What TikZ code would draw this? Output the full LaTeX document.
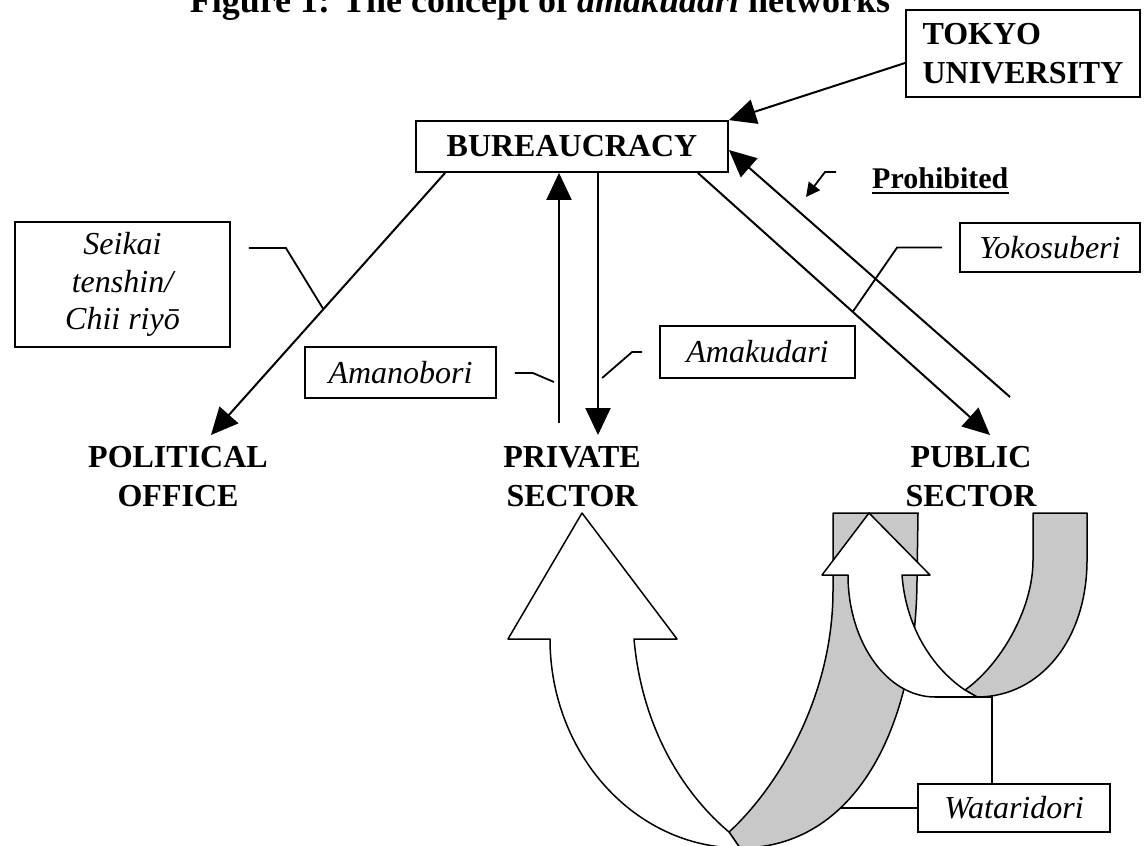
\documentclass[tikz,border=0pt]{standalone}
\usepackage{fontspec}
\setmainfont{Liberation Serif}
\usetikzlibrary{arrows.meta,calc}
\definecolor{backface}{RGB}{200,200,200}
\begin{document}
\begin{tikzpicture}[x=1pt,y=-1pt,
  lbl/.style={font=\fontsize{32}{39}\selectfont\bfseries, align=center, inner sep=0pt},
  tag/.style={draw, line width=1.8pt, font=\fontsize{32}{37.5}\selectfont\itshape, align=center, inner sep=0pt},
  conn/.style={line width=2pt, -{Triangle[length=27pt,width=25pt]}},
  leader/.style={line width=1.8pt},
  band/.style={line width=1.5pt, line join=round}]

\useasboundingbox (0,0) rectangle (1147,845);
\clip (0,0) rectangle (1147,845);

% ---------- twisted ribbons (wataridori) ----------
% large ribbon: back face
\draw[band, fill=backface] (740,848) .. controls (855,848) and (916,728) .. (917,580)
  -- (918,513) -- (833,513) -- (833,590) .. controls (833,700) and (775,790) .. (729,832) -- cycle;
% large ribbon: front face with arrow head
\draw[band, fill=white] (550,639) -- (508,639) -- (582,513) -- (677,639) -- (634,639)
  .. controls (642,730) and (685,795) .. (729,832) -- (740,848)
  .. controls (635,848) and (550,754) .. (550,639) -- cycle;
% small ribbon: back face
\draw[band, fill=backface] (977,697) .. controls (1040,697) and (1087,640) .. (1087,560)
  -- (1087,513) -- (1033,513) -- (1033,560) .. controls (1033,610) and (1000,665) .. (965,690) -- cycle;
% small ribbon: front face with arrow head
\draw[band, fill=white] (848,575) -- (822,575) -- (869,513) -- (930,575) -- (902,575)
  .. controls (906,630) and (935,670) .. (965,690) -- (977,697) -- (935,697)
  .. controls (887,697) and (848,642) .. (848,575) -- cycle;

% ---------- title ----------
\node[anchor=base, inner sep=0pt, font=\fontsize{36}{40}\selectfont\bfseries] (title) at (540,13)
  {Figure 1: The concept of \textit{amakudari} networks};

% ---------- main nodes ----------
\node[draw, line width=1.8pt, lbl, minimum width=312pt, minimum height=51pt] (bur) at (572,146.5) {BUREAUCRACY};
\node[draw, line width=1.8pt, lbl, align=left, minimum width=234pt, minimum height=87pt] (tok) at (1023,53.5) {TOKYO\\UNIVERSITY};
\node[lbl] (pol)  at (178,477) {POLITICAL\\OFFICE};
\node[lbl] (priv) at (572,477) {PRIVATE\\SECTOR};
\node[lbl] (pub)  at (971,477) {PUBLIC\\SECTOR};

% ---------- label boxes ----------
\node[tag, minimum width=215pt, minimum height=125pt] (sei) at (122.5,284.5) {Seikai\\tenshin/\\Chii riyō};
\node[tag, minimum width=191pt, minimum height=51pt] (amo) at (400.5,372.5) {Amanobori};
\node[tag, minimum width=195pt, minimum height=52pt] (amk) at (757.5,352) {Amakudari};
\node[tag, minimum width=180pt, minimum height=49pt] (yok) at (1050,247.5) {Yokosuberi};
\node[tag, minimum width=192pt, minimum height=48pt] (wat) at (1014,808) {Wataridori};

\node[anchor=base west, inner sep=0pt, font=\fontsize{30}{36}\selectfont\bfseries] (proh) at (872,188) {Prohibited};
\draw[line width=1.8pt] ([yshift=-5pt]proh.base west) -- ([yshift=-5pt]proh.base east);

% ---------- connectors ----------
\draw[conn] ([yshift=-9.5pt]tok.west) -- (bur.north east);
\draw[conn] ([xshift=30pt]bur.south west) -- coordinate[pos=0.52] (pmid) ($(pol.center)+(33,-42)$);
\draw[conn] ($(priv.center)+(-13,-54)$) -- ([xshift=-13pt]bur.south);
\draw[conn] ([xshift=26pt]bur.south) -- ($(priv.center)+(26,-42)$);
\draw[conn] ([xshift=-31pt]bur.south east) -- coordinate[pos=0.53] (dmid) ($(pub.center)+(19,-42)$);
\draw[conn] ($(pub.center)+(39,-80)$) -- ([yshift=-3.5pt]bur.east);
\draw[line width=1.8pt, -{Triangle[length=14pt,width=14pt]}]
  ($(proh.base west)+(-36,-16)$) -- ++(-11,0) -- ++(-19,25);

% ---------- leaders ----------
\draw[leader] ($(sei.east)+(18,-36.5)$) -- ++(37,0) -- (pmid);
\draw[leader] ($(amo.east)+(18,0.5)$) -- ++(18,0) -- ++(21,9);
\draw[leader] ($(amk.west)+(-17,0)$) -- ++(-10,0) -- ++(-30,26);
\draw[leader] ($(yok.west)+(-17,0)$) -- ++(-45,0) -- (dmid);

\coordinate (wl) at (935,697);
\coordinate (wj) at (992,697);
\coordinate (wb) at (841,808);
\draw[leader] (wl) -- (wj) -- (wj |- wat.north);
\draw[leader] (wb) -- (wat.west);
\end{tikzpicture}
\end{document}
